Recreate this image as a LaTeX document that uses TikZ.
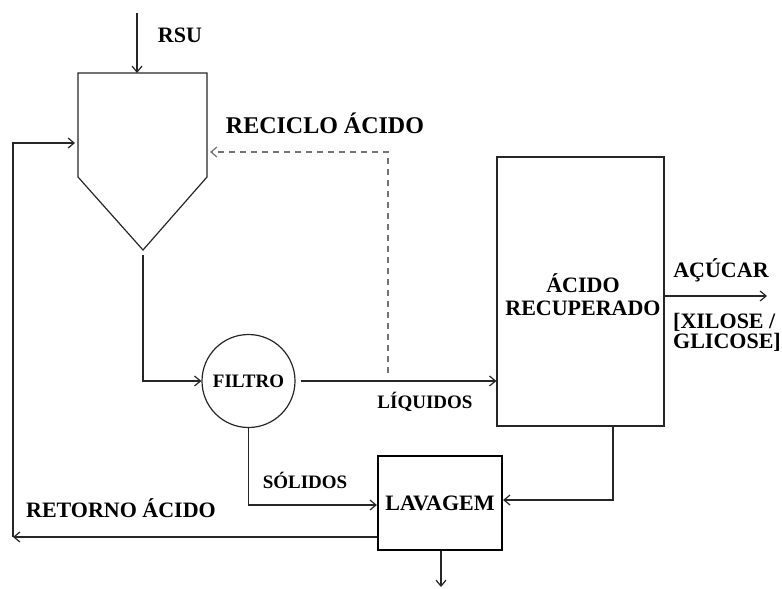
\documentclass[tikz,border=0pt]{standalone}
\usepackage{fontspec}
\setmainfont{Liberation Serif}
\usetikzlibrary{arrows.meta}
\begin{document}
\begin{tikzpicture}[x=1pt,y=-1pt,
  line/.style={line width=1.2pt, draw=black!85},
  arr/.style={line, -{Straight Barb[length=6pt,width=10pt,line width=1.2pt]}},
  dasharr/.style={line width=1.2pt, draw=black!55, dash pattern=on 6pt off 5pt, -{Straight Barb[length=6pt,width=10pt,line width=1.2pt]}},
  lbl/.style={font=\bfseries\fontsize{22}{24}\selectfont, inner sep=0pt, text=black},
  lbls/.style={font=\bfseries\fontsize{19}{21}\selectfont, inner sep=0pt, text=black},
]
\useasboundingbox (0,0) rectangle (782,589);

% hopper
\draw[line] (78,73) -- (207,73) -- (207,177) -- (143,250) -- (78,177) -- cycle;
\coordinate (hopTop) at (137,73);
\coordinate (hopL) at (78,143);
\coordinate (hopR) at (207,152);
\coordinate (hopBot) at (143,255);

% nodes
\node[circle, line, minimum size=93pt, inner sep=0pt, lbls] (filtro) at (248.5,381) {FILTRO};
\node[rectangle, line, minimum width=167pt, minimum height=269pt, inner sep=0pt] (acido) at (580.5,291.5) {};
\node[rectangle, draw=black, line width=2.2pt, minimum width=124pt, minimum height=94pt, inner sep=0pt, lbl] (lav) at (440,503) {LAVAGEM};

% free ends
\coordinate (rsuIn) at (137,13);
\coordinate (dashStart) at (388,373);
\coordinate (ret) at (13,537);
\coordinate (waste) at (441,587);
\coordinate (sugar) at (767,296);

% connectors
\draw[arr] (rsuIn) -- (hopTop);
\draw[arr] (hopBot) |- (filtro.west);
\draw[arr, shorten <=5pt] (filtro.east) -- (filtro.east -| acido.west);
\draw[dasharr, shorten >=3pt] (dashStart) |- (hopR);
\draw[arr] (filtro.south) |- ([yshift=-2pt]lav.west);
\draw[arr] ([xshift=32.5pt]acido.south) |- ([yshift=3pt]lav.east);
\draw[arr] ([xshift=1pt]lav.south) -- (waste);
\draw[arr] ([yshift=-34pt]lav.west) -- (ret);
\draw[arr, shorten >=3pt] (ret) |- (hopL);
\draw[arr] ([yshift=-4.5pt]acido.east) -- (sugar);

% labels
\node[lbl, anchor=base] (tRSU) at (180,42) {RSU};
\node[font=\bfseries\fontsize{24}{26}\selectfont, inner sep=0pt, anchor=base] (tRec) at (325,133) {RECICLO ÁCIDO};
\node[lbls, anchor=base] (tLiq) at (425,408) {LÍQUIDOS};
\node[lbls, anchor=base] (tSol) at (305,488) {SÓLIDOS};
\node[lbl, anchor=base] (tRet) at (121,517) {RETORNO ÁCIDO};
\node[lbl, anchor=base] (tAc1) at (583,292) {ÁCIDO};
\node[lbl, anchor=base] (tAc2) at (583,315) {RECUPERADO};
\node[lbl, anchor=base] (tAcu) at (721,277) {AÇÚCAR};
\node[lbl, anchor=base west] (tXil) at (673,328) {[XILOSE /};
\node[lbl, anchor=base west] (tGli) at (673,348) {GLICOSE]};
\end{tikzpicture}
\end{document}
